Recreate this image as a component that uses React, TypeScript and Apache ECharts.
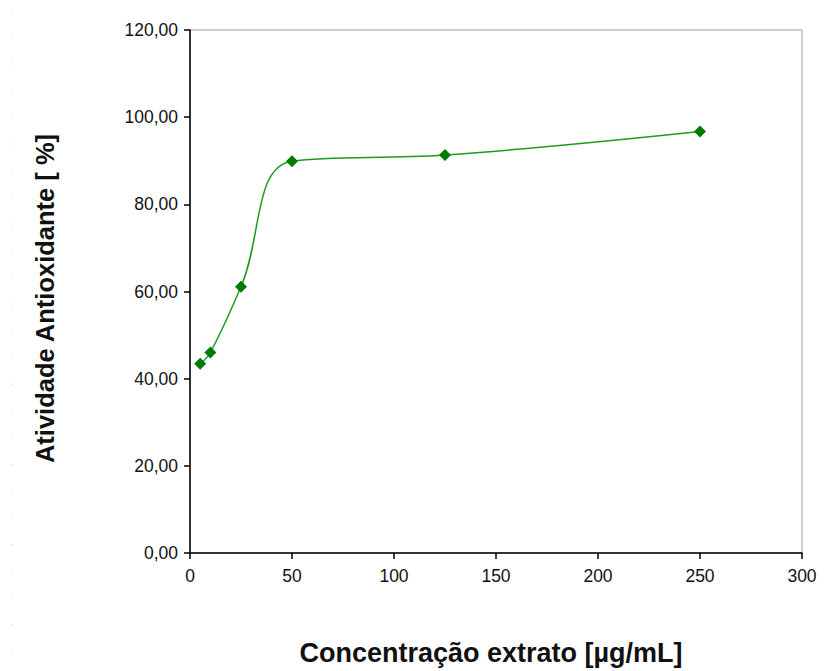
import React, { useEffect, useRef } from "react";
import * as echarts from "echarts";

const concentrations = [5, 10, 25, 50, 125, 250];
const activity = [43.4, 46.0, 61.1, 89.9, 91.3, 96.7];
const xTitle = "Concentração extrato [µg/mL]";
const yTitle = "Atividade Antioxidante [ %]";

export default function App() {
  const ref = useRef<HTMLDivElement>(null);
  useEffect(() => {
    if (!ref.current) return;
    const chart = echarts.init(ref.current, null, { renderer: "svg" });
    const font = "'Liberation Sans', Arial, sans-serif";
    chart.setOption({
      animation: false,
      backgroundColor: "#fff",
      grid: {
        left: 190,
        right: 25,
        top: 30,
        bottom: 113,
        show: true,
        borderColor: "#a0a0a0",
        borderWidth: 1,
        backgroundColor: "transparent",
      },
      graphic: [
        {
          type: "line",
          shape: { x1: 12, y1: 10, x2: 12, y2: 671 },
          style: { stroke: "#d0d0d0", lineWidth: 1, lineDash: [1, 25.7] },
        },
      ],
      xAxis: {
        type: "value",
        min: 0,
        max: 300,
        interval: 50,
        name: xTitle,
        nameLocation: "middle",
        nameGap: 86,
        nameTextStyle: { fontFamily: font, fontSize: 27, fontWeight: "bold", color: "#111", padding: [0, 10, 0, 0] },
        axisLine: { show: true, lineStyle: { color: "#000", width: 1.5 } },
        axisTick: { show: true, inside: false, length: 6, lineStyle: { color: "#000", width: 1.5 } },
        axisLabel: { fontFamily: font, fontSize: 17.5, color: "#111", margin: 14 },
        splitLine: { show: false },
      },
      yAxis: {
        type: "value",
        min: 0,
        max: 120,
        interval: 20,
        name: yTitle,
        nameLocation: "middle",
        nameRotate: 90,
        nameGap: 132,
        nameTextStyle: { fontFamily: font, fontSize: 25.5, fontWeight: "bold", color: "#111", padding: [0, 14, 0, 0] },
        axisLine: { show: true, lineStyle: { color: "#000", width: 1.5 } },
        axisTick: { show: true, inside: false, length: 6, lineStyle: { color: "#000", width: 1.5 } },
        axisLabel: {
          fontFamily: font,
          fontSize: 17.5,
          color: "#111",
          margin: 12,
          formatter: (v: number) => v.toFixed(2).replace(".", ","),
        },
        splitLine: { show: false },
      },
      series: [
        {
          type: "line",
          data: concentrations.map((c, i) => [c, activity[i]]),
          smooth: 0.4,
          symbol: "diamond",
          symbolSize: 12,
          lineStyle: { color: "#1f9c1f", width: 1.5 },
          itemStyle: { color: "#007a00" },
        },
      ],
    });
    return () => chart.dispose();
  }, []);
  return <div ref={ref} style={{ width: 827, height: 671, position: "absolute", left: 0, top: 0 }} />;
}
